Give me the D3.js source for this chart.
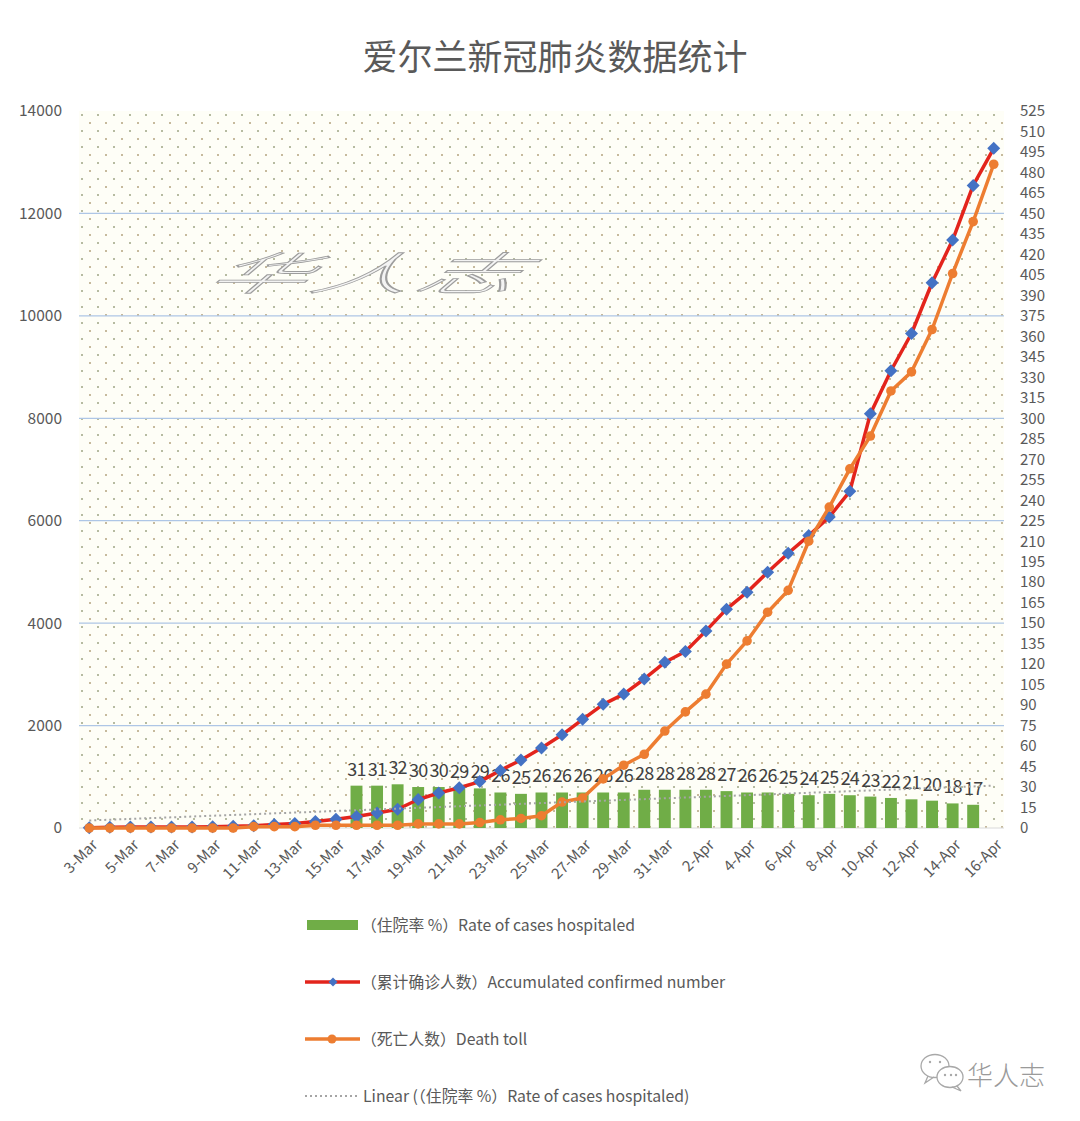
<!DOCTYPE html>
<html><head><meta charset="utf-8">
<script src="https://cdn.jsdelivr.net/npm/d3@7"></script>
<style>
body{margin:0;background:#fff}
svg{display:block}
text{font-family:"Noto Sans CJK SC","Noto Sans",sans-serif}
</style>
</head><body>
<svg id="c" width="1080" height="1121"></svg>
<script>
// ---------- DATA ----------
const dates = ["3-Mar","4-Mar","5-Mar","6-Mar","7-Mar","8-Mar","9-Mar","10-Mar","11-Mar","12-Mar",
  "13-Mar","14-Mar","15-Mar","16-Mar","17-Mar","18-Mar","19-Mar","20-Mar","21-Mar","22-Mar",
  "23-Mar","24-Mar","25-Mar","26-Mar","27-Mar","28-Mar","29-Mar","30-Mar","31-Mar","1-Apr",
  "2-Apr","3-Apr","4-Apr","5-Apr","6-Apr","7-Apr","8-Apr","9-Apr","10-Apr","11-Apr",
  "12-Apr","13-Apr","14-Apr","15-Apr","16-Apr"];
const confirmed = [6,13,18,19,21,21,24,34,43,70,
  90,129,169,223,292,366,557,683,785,906,
  1125,1329,1564,1819,2121,2415,2615,2910,3235,3447,
  3849,4273,4604,4994,5364,5709,6074,6574,8089,8928,
  9655,10647,11479,12547,13271];
const deaths = [0,0,0,0,0,0,0,0,1,1,
  1,2,2,2,2,2,3,3,3,4,
  6,7,9,19,22,36,46,54,71,85,
  98,120,137,158,174,210,235,263,287,320,
  334,365,406,444,486];
const hospRate = [null,null,null,null,null,null,null,null,null,null,
  null,null,null,31,31,32,30,30,29,29,
  26,25,26,26,26,26,26,28,28,28,
  28,27,26,26,25,24,25,24,23,22,
  21,20,18,17,null];
const trendEnds = [5.5, 31];   // linear trendline of hospitalisation rate, first & last category
const leftTicks = [0,2000,4000,6000,8000,10000,12000,14000];
const rightTicks = [0,15,30,45,60,75,90,105,120,135,150,165,180,195,210,225,240,255,270,285,
  300,315,330,345,360,375,390,405,420,435,450,465,480,495,510,525];
const xTickLabels = dates.filter((d,i)=>i%2===0);
const title = "爱尔兰新冠肺炎数据统计";
const legendLabels = ["（住院率 %）Rate of cases hospitaled",
  "（累计确诊人数）Accumulated confirmed number",
  "（死亡人数）Death toll",
  "Linear (（住院率 %）Rate of cases hospitaled)"];

// ---------- LAYOUT ----------
const svg = d3.select("#c");
const L = 79, R = 1004, T = 111, B = 828;
const x = d3.scaleBand().domain(dates).range([L, R]).padding(0);
const cx = d => x(d) + x.bandwidth()/2;
const yL = d3.scaleLinear().domain([0,14000]).range([B, T]);
const yR = d3.scaleLinear().domain([0,525]).range([B, T]);
const txt = "#595959";
const FONT = '"Noto Sans CJK SC","Noto Sans",sans-serif';

// plot background with dotted pattern
const defs = svg.append("defs");
const pat = defs.append("pattern").attr("id","dots").attr("patternUnits","userSpaceOnUse")
  .attr("x", L).attr("y", T).attr("width",16).attr("height",16);
pat.append("rect").attr("width",16).attr("height",16).attr("fill","#fefef7");
pat.append("circle").attr("cx",3).attr("cy",4).attr("r",1).attr("fill","#9ea585");
pat.append("circle").attr("cx",11).attr("cy",12).attr("r",1).attr("fill","#b3a47f");
svg.append("rect").attr("x",L).attr("y",T).attr("width",R-L).attr("height",B-T).attr("fill","url(#dots)");

// title
svg.append("text").attr("x",555).attr("y",70).attr("text-anchor","middle")
  .attr("font-size",35).attr("fill",txt).text(title);

// gridlines
svg.append("g").selectAll("line").data(leftTicks.filter(v=>v>0 && v<14000)).join("line")
  .attr("x1",L).attr("x2",R).attr("y1",d=>yL(d)).attr("y2",d=>yL(d))
  .attr("stroke","#aec6e6").attr("stroke-width",1.2);
svg.append("line").attr("x1",L).attr("x2",R).attr("y1",B).attr("y2",B)
  .attr("stroke","#d9d9d9").attr("stroke-width",1.2);

// watermark
svg.append("text").attr("transform","translate(360,290) scale(1.5,0.68) skewX(-28)")
  .attr("text-anchor","middle").attr("font-size",66).attr("letter-spacing",4)
  .attr("fill","#f3f3f3").attr("stroke","#9d9d9d").attr("stroke-width",1.3)
  .attr("font-weight",300).text("华人志");

// axes
const axL = svg.append("g").attr("transform",`translate(${L},0)`)
  .call(d3.axisLeft(yL).tickValues(leftTicks).tickFormat(d3.format("d")).tickSize(0).tickPadding(17));
const axR = svg.append("g").attr("transform",`translate(${R},0)`)
  .call(d3.axisRight(yR).tickValues(rightTicks).tickFormat(d3.format("d")).tickSize(0).tickPadding(16));
const axX = svg.append("g").attr("transform",`translate(0,${B})`)
  .call(d3.axisBottom(x).tickValues(xTickLabels).tickSize(0));
[axL,axR,axX].forEach(a=>{a.select(".domain").remove();
  a.selectAll("text").attr("fill",txt).attr("font-family",FONT);});
axL.selectAll("text").attr("font-size",15.5);
axR.selectAll("text").attr("font-size",15);
axX.selectAll("text").attr("font-size",15).attr("text-anchor","end")
  .attr("x",-6).attr("y",14).attr("dy","0.35em").attr("transform","rotate(-45)");

// bars
const barW = x.bandwidth()*0.58;
const barData = dates.map((d,i)=>({d, v:hospRate[i]})).filter(o=>o.v!==null);
svg.append("g").selectAll("rect").data(barData).join("rect")
  .attr("x",o=>cx(o.d)-barW/2).attr("width",barW)
  .attr("y",o=>yR(o.v)).attr("height",o=>B-yR(o.v)).attr("fill","#70ad47");
svg.append("g").selectAll("text").data(barData).join("text")
  .attr("x",o=>cx(o.d)).attr("y",o=>yR(o.v)-10).attr("text-anchor","middle")
  .attr("font-size",18).attr("fill","#404040").attr("letter-spacing",-0.8).text(o=>o.v);

// confirmed line (left axis)
const lineL = d3.line().x((v,i)=>cx(dates[i])).y(v=>yL(v));
svg.append("path").attr("d",lineL(confirmed)).attr("fill","none")
  .attr("stroke","#e3241c").attr("stroke-width",3.5).attr("stroke-linejoin","round");
svg.append("g").selectAll("path").data(confirmed).join("path")
  .attr("transform",(v,i)=>`translate(${cx(dates[i])},${yL(v)})`)
  .attr("d","M0,-6.5L6.5,0L0,6.5L-6.5,0Z").attr("fill","#4472c4");

// deaths line (right axis)
const lineR = d3.line().x((v,i)=>cx(dates[i])).y(v=>yR(v));
svg.append("path").attr("d",lineR(deaths)).attr("fill","none")
  .attr("stroke","#ed7d31").attr("stroke-width",3.5).attr("stroke-linejoin","round");
svg.append("g").selectAll("circle").data(deaths).join("circle")
  .attr("cx",(v,i)=>cx(dates[i])).attr("cy",v=>yR(v)).attr("r",4.8).attr("fill","#ed7d31");

// trendline
svg.append("line").attr("x1",cx(dates[0])).attr("y1",yR(trendEnds[0]))
  .attr("x2",cx(dates[dates.length-1])).attr("y2",yR(trendEnds[1]))
  .attr("stroke","#a5a5a5").attr("stroke-width",2).attr("stroke-dasharray","2,3");

// legend
const lg = svg.append("g");
const ly = [925, 982, 1039, 1096];
lg.append("rect").attr("x",307).attr("y",ly[0]-5).attr("width",51).attr("height",10).attr("fill","#70ad47");
lg.append("line").attr("x1",305).attr("x2",360).attr("y1",ly[1]).attr("y2",ly[1]).attr("stroke","#e3241c").attr("stroke-width",3.5);
lg.append("path").attr("transform",`translate(333,${ly[1]})`).attr("d","M0,-4.5L4.5,0L0,4.5L-4.5,0Z").attr("fill","#4472c4");
lg.append("line").attr("x1",305).attr("x2",360).attr("y1",ly[2]).attr("y2",ly[2]).attr("stroke","#ed7d31").attr("stroke-width",3.5);
lg.append("circle").attr("cx",332).attr("cy",ly[2]).attr("r",4.5).attr("fill","#ed7d31");
lg.append("line").attr("x1",305).attr("x2",357).attr("y1",ly[3]).attr("y2",ly[3]).attr("stroke","#a5a5a5").attr("stroke-width",1.8).attr("stroke-dasharray","2,3");
const lx = [361, 361, 361, 363];
lg.selectAll("text").data(legendLabels).join("text")
  .attr("x",(d,i)=>lx[i]).attr("y",(d,i)=>ly[i]).attr("dy","0.35em")
  .attr("font-size",15.8).attr("fill",txt).text(d=>d);

// bottom-right logo
const logo = svg.append("g").attr("fill","#fff").attr("stroke","#a8a8a8").attr("stroke-width",1.3);
logo.append("ellipse").attr("cx",935).attr("cy",1066).attr("rx",14).attr("ry",11.5);
logo.append("ellipse").attr("cx",950).attr("cy",1077).attr("rx",13).attr("ry",10.5);
logo.append("path").attr("d","M928,1076 L925,1083 L934,1077").attr("fill","none");
logo.append("path").attr("d","M957,1086 L961,1091 L952,1087").attr("fill","none");
[[930,1062],[940,1062],[945,1075],[951,1075],[956,1075]].forEach(p=>
  svg.append("circle").attr("cx",p[0]).attr("cy",p[1]).attr("r",1.2).attr("fill","#a8a8a8"));
svg.append("text").attr("x",967).attr("y",1085).attr("font-size",26).attr("font-weight",300)
  .attr("fill","#9a9a9a").text("华人志");
</script>
</body></html>
